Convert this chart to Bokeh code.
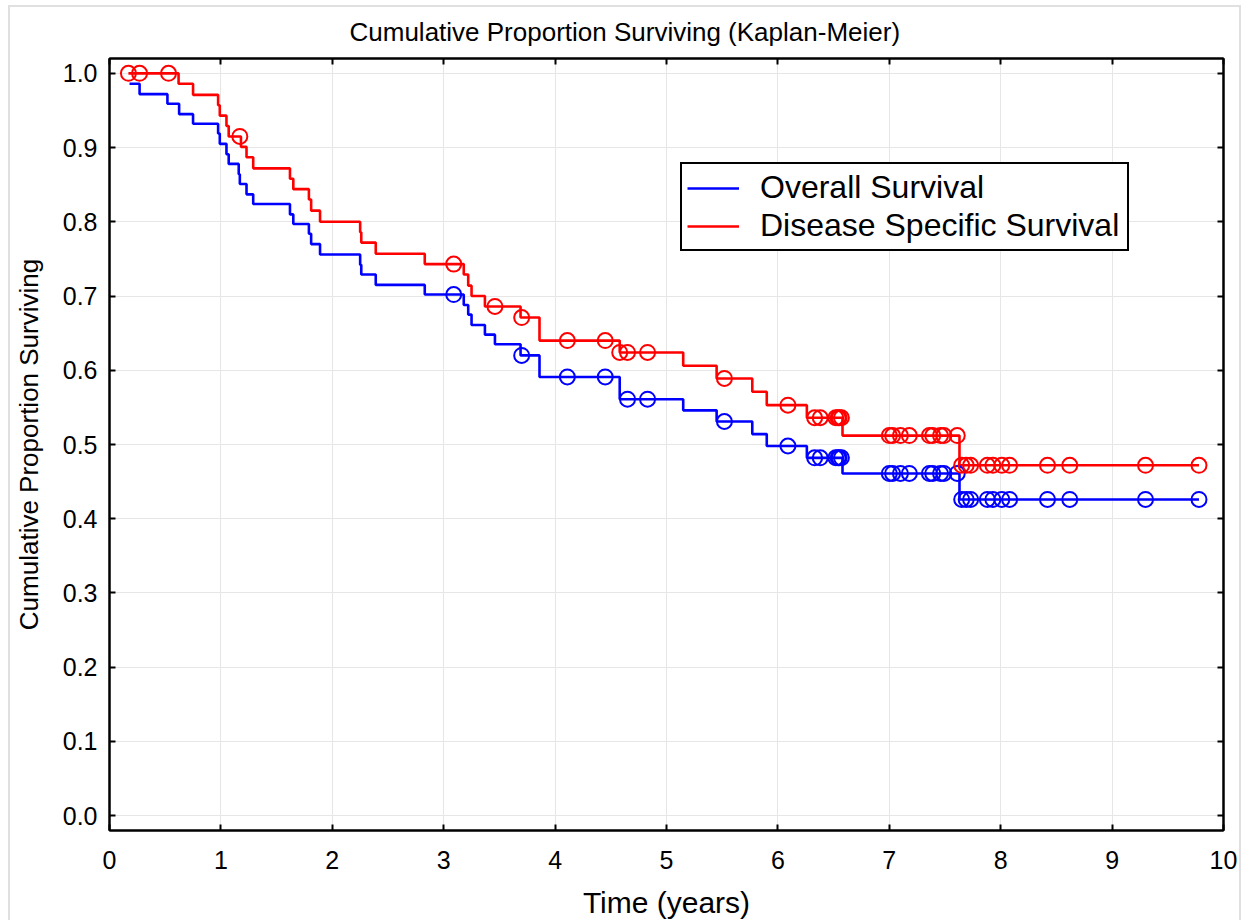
from bokeh.plotting import figure
from bokeh.models import LinearAxis, Range1d, Legend, LegendItem, FixedTicker, PrintfTickFormatter
from bokeh.embed import file_html
from bokeh.resources import INLINE

# ---------------- data ----------------
# Overall Survival (blue): step start times and survival after each step
os_times = [0.18, 0.27, 0.52, 0.625, 0.75, 0.975, 0.99, 1.05, 1.07, 1.16,
            1.17, 1.23, 1.29, 1.62, 1.65, 1.79, 1.81, 1.89, 2.25, 2.26,
            2.39, 2.83, 3.18, 3.22, 3.25, 3.37, 3.46, 3.69, 3.86, 4.58,
            5.15, 5.45, 5.77, 5.90, 6.26, 6.58, 7.63]
os_values = [0.986, 0.972, 0.959, 0.945, 0.932, 0.919, 0.905, 0.891, 0.878, 0.864,
             0.851, 0.837, 0.824, 0.810, 0.797, 0.784, 0.770, 0.756, 0.742, 0.729,
             0.715, 0.702, 0.688, 0.675, 0.661, 0.648, 0.635, 0.620, 0.591, 0.561,
             0.546, 0.531, 0.514, 0.498, 0.482, 0.461, 0.426]
os_censored = [3.09, 3.70, 4.11, 4.45, 4.65, 4.83, 5.52, 6.09, 6.33, 6.38,
               6.52, 6.54, 6.55, 6.57, 7.00, 7.03, 7.10, 7.18, 7.36, 7.39,
               7.46, 7.49, 7.61, 7.65, 7.69, 7.73, 7.88, 7.93, 8.01, 8.08,
               8.42, 8.62, 9.30, 9.78]

# Disease Specific Survival (red)
dss_times = [0.17, 0.62, 0.75, 0.975, 0.99, 1.05, 1.07, 1.18, 1.23, 1.29,
             1.62, 1.65, 1.79, 1.81, 1.89, 2.25, 2.26, 2.39, 2.83, 3.18,
             3.22, 3.25, 3.37, 3.69, 3.86, 4.58, 5.15, 5.45, 5.77, 5.90,
             6.26, 6.58, 7.63]
dss_values = [1.000, 0.986, 0.971, 0.957, 0.943, 0.929, 0.915, 0.901, 0.887, 0.872,
              0.858, 0.844, 0.830, 0.815, 0.800, 0.786, 0.772, 0.757, 0.743, 0.729,
              0.714, 0.700, 0.686, 0.671, 0.640, 0.624, 0.606, 0.589, 0.571, 0.553,
              0.536, 0.512, 0.472]
dss_censored = [0.17, 0.27, 0.53, 1.17, 3.09, 3.46, 3.70, 4.11, 4.45, 4.58,
                4.65, 4.83, 5.52, 6.09, 6.33, 6.38, 6.52, 6.54, 6.55, 6.57,
                7.00, 7.03, 7.10, 7.18, 7.36, 7.39, 7.46, 7.49, 7.61, 7.65,
                7.69, 7.73, 7.88, 7.93, 8.01, 8.08, 8.42, 8.62, 9.30, 9.78]

x_ticks = [0, 1, 2, 3, 4, 5, 6, 7, 8, 9, 10]
y_ticks = [0.0, 0.1, 0.2, 0.3, 0.4, 0.5, 0.6, 0.7, 0.8, 0.9, 1.0]

title_text = "Cumulative Proportion Surviving (Kaplan-Meier)"
x_label = "Time (years)"
y_label = "Cumulative Proportion Surviving"
os_name = "Overall Survival"
dss_name = "Disease Specific Survival"

# ---------------- helpers ----------------
def step_xy(times, values, end):
    return list(times) + [end], list(values) + [values[-1]]

def value_at(times, values, t):
    v = values[0]
    for ti, vi in zip(times, values):
        if ti <= t + 1e-9:
            v = vi
    return v

FONT = "Liberation Sans"
BLUE = "#0000ff"
RED = "#ff0000"

p = figure(width=1233, height=915, output_backend="svg", toolbar_location=None,
           x_range=Range1d(0, 10), y_range=Range1d(-0.02, 1.02),
           min_border_left=98, min_border_right=20, min_border_top=51, min_border_bottom=92)
p.margin = (5, 8, 0, 8)

p.title.text = title_text
p.title.text_font = FONT
p.title.text_font_size = "26px"
p.title.text_font_style = "normal"
p.title.text_color = "black"
p.title.align = "left"
p.title.offset = 240
p.title.vertical_align = "top"
p.title.standoff = 19

p.outline_line_color = "black"
p.outline_line_width = 2
p.background_fill_color = "white"
p.border_fill_color = "white"

p.xgrid.grid_line_color = "#e6e6e6"
p.ygrid.grid_line_color = "#e6e6e6"
p.xgrid.ticker = FixedTicker(ticks=x_ticks)
p.ygrid.ticker = FixedTicker(ticks=y_ticks)

def style_axis(ax, labels=True):
    ax.axis_line_color = "black"
    ax.axis_line_width = 2
    ax.major_tick_line_color = "black"
    ax.major_tick_line_width = 2
    ax.major_tick_in = 6
    ax.major_tick_out = 0
    ax.minor_tick_line_color = None
    ax.major_label_text_font = FONT
    ax.major_label_text_color = "black"
    ax.axis_label_text_font = FONT
    ax.axis_label_text_font_style = "normal"
    ax.axis_label_text_color = "black"
    if labels:
        ax.major_label_text_font_size = "25px"
        ax.axis_label_text_font_size = "26px"
    else:
        ax.major_label_text_font_size = "1px"
        ax.major_label_text_color = None
        ax.major_label_standoff = 0

xa = p.xaxis[0]
xa.ticker = FixedTicker(ticks=x_ticks)
style_axis(xa)
xa.axis_label = x_label
xa.axis_label_text_font_size = "30px"
xa.major_label_standoff = 20
xa.axis_label_standoff = 14

ya = p.yaxis[0]
ya.ticker = FixedTicker(ticks=y_ticks)
ya.formatter = PrintfTickFormatter(format="%.1f")
style_axis(ya)
ya.axis_label = y_label
ya.major_label_standoff = 12
ya.axis_label_standoff = 16

top_ax = LinearAxis(ticker=FixedTicker(ticks=x_ticks))
style_axis(top_ax, labels=False)
p.add_layout(top_ax, "above")
right_ax = LinearAxis(ticker=FixedTicker(ticks=y_ticks))
style_axis(right_ax, labels=False)
p.add_layout(right_ax, "right")

# curves
ox, oy = step_xy(os_times, os_values, os_censored[-1])
dx, dy = step_xy(dss_times, dss_values, dss_censored[-1])
r_os = p.step(ox, oy, mode="after", line_color=BLUE, line_width=2.6)
r_dss = p.step(dx, dy, mode="after", line_color=RED, line_width=2.6)

os_cy = [value_at(os_times, os_values, t) for t in os_censored]
dss_cy = [value_at(dss_times, dss_values, t) for t in dss_censored]
p.scatter(os_censored, os_cy, marker="circle", size=15, fill_color=None,
          line_color=BLUE, line_width=2)
p.scatter(dss_censored, dss_cy, marker="circle", size=15, fill_color=None,
          line_color=RED, line_width=2)

legend = Legend(items=[LegendItem(label=os_name, renderers=[r_os]),
                       LegendItem(label=dss_name, renderers=[r_dss])],
                location=(571, 579))
legend.label_text_font = FONT
legend.label_text_font_size = "32px"
legend.label_text_color = "black"
legend.glyph_width = 52
legend.glyph_height = 20
legend.label_standoff = 21
legend.label_width = 362
legend.spacing = 1
legend.padding = 5
legend.margin = 0
legend.border_line_color = "black"
legend.border_line_alpha = 1.0
legend.border_line_width = 2
legend.background_fill_alpha = 1.0
p.add_layout(legend, "center")

p.styles = {"border": "2px solid #e0e0e0", "border-bottom": "none"}

open("out.html", "w").write(file_html(p, INLINE))
